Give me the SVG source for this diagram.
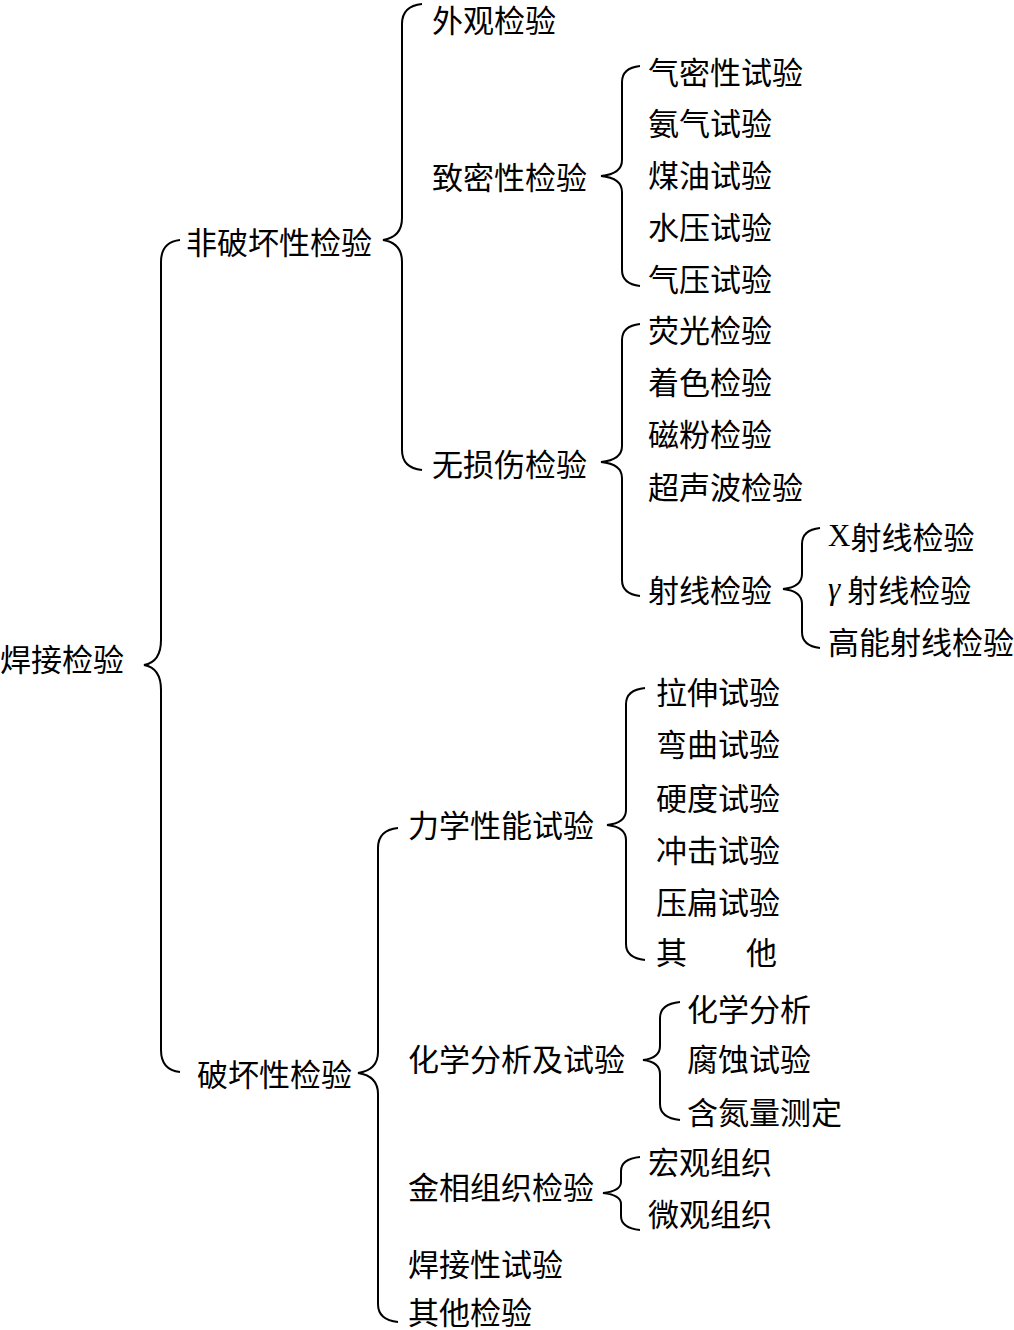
<svg xmlns="http://www.w3.org/2000/svg" width="1014" height="1330" viewBox="0 0 1014 1330">
<style>
text{font-family:"Noto Sans CJK SC","Liberation Serif",serif;font-size:31px;fill:#000;dominant-baseline:central}
.b{fill:none;stroke:#000;stroke-width:2}
.it{font-family:"Liberation Serif",serif;font-style:italic}
.lat{font-family:"Liberation Serif",serif}
</style>
<rect width="1014" height="1330" fill="#fff"/>
<g id="connectors">
<path class="b" d="M180,240 Q161,242 161,262 L161,640 Q161,662 144,665 Q161,668 161,690 L161,1050 Q161,1070 180,1072"/>
<path class="b" d="M422,4 Q402,6 402,24 L402,218 Q402,237 383,240 Q402,243 402,262 L402,450 Q402,468 422,470"/>
<path class="b" d="M640,66 Q622,68 622,82 L622,160 Q622,174 601,176 Q622,178 622,192 L622,270 Q622,284 640,286"/>
<path class="b" d="M640,324 Q622,326 622,340 L622,446 Q622,460 601,462 Q622,464 622,478 L622,580 Q622,594 640,596"/>
<path class="b" d="M820,528 Q802,530 802,544 L802,574 Q802,587 783,589 Q802,591 802,604 L802,632 Q802,646 820,648"/>
<path class="b" d="M398,828 Q378,830 378,848 L378,1052 Q378,1070 358,1073 Q378,1076 378,1094 L378,1304 Q378,1320 398,1322"/>
<path class="b" d="M645,688 Q626,690 626,704 L626,810 Q626,823 607,825 Q626,827 626,840 L626,944 Q626,958 645,960"/>
<path class="b" d="M680,1002 Q660,1004 660,1018 L660,1046 Q660,1058 643,1060 Q660,1062 660,1074 L660,1104 Q660,1118 680,1120"/>
<path class="b" d="M640,1157 Q621,1159 621,1171 L621,1182 Q621,1191 603,1193 Q621,1195 621,1204 L621,1216 Q621,1228 640,1230"/>
</g>
<g id="n-root"><text x="0" y="657">焊接检验</text></g>
<g id="n-nondestructive"><text x="186" y="240">非破坏性检验</text></g>
<g id="n-visual"><text x="432" y="18">外观检验</text></g>
<g id="n-tightness"><text x="432" y="175">致密性检验</text></g>
<g id="n-t1"><text x="648" y="70">气密性试验</text></g>
<g id="n-t2"><text x="648" y="121">氨气试验</text></g>
<g id="n-t3"><text x="648" y="173">煤油试验</text></g>
<g id="n-t4"><text x="648" y="225">水压试验</text></g>
<g id="n-t5"><text x="648" y="277">气压试验</text></g>
<g id="n-ndt"><text x="432" y="462">无损伤检验</text></g>
<g id="n-d1"><text x="648" y="328">荧光检验</text></g>
<g id="n-d2"><text x="648" y="380">着色检验</text></g>
<g id="n-d3"><text x="648" y="432">磁粉检验</text></g>
<g id="n-d4"><text x="648" y="485">超声波检验</text></g>
<g id="n-d5"><text x="648" y="588">射线检验</text></g>
<g id="n-r1"><text x="828" y="535"><tspan class="lat">X</tspan>射线检验</text></g>
<g id="n-r2"><text x="828" y="588"><tspan class="it">γ</tspan> 射线检验</text></g>
<g id="n-r3"><text x="828" y="640">高能射线检验</text></g>
<g id="n-destructive"><text x="197" y="1072">破坏性检验</text></g>
<g id="n-mech"><text x="408" y="823">力学性能试验</text></g>
<g id="n-m1"><text x="656" y="690">拉伸试验</text></g>
<g id="n-m2"><text x="656" y="742">弯曲试验</text></g>
<g id="n-m3"><text x="656" y="796">硬度试验</text></g>
<g id="n-m4"><text x="656" y="848">冲击试验</text></g>
<g id="n-m5"><text x="656" y="900">压扁试验</text></g>
<g id="n-m6"><text x="656" y="950">其</text><text x="746" y="950">他</text></g>
<g id="n-chem"><text x="408" y="1057">化学分析及试验</text></g>
<g id="n-c1"><text x="687" y="1007">化学分析</text></g>
<g id="n-c2"><text x="687" y="1057">腐蚀试验</text></g>
<g id="n-c3"><text x="687" y="1110">含氮量测定</text></g>
<g id="n-metal"><text x="408" y="1185">金相组织检验</text></g>
<g id="n-g1"><text x="648" y="1160">宏观组织</text></g>
<g id="n-g2"><text x="648" y="1212">微观组织</text></g>
<g id="n-weld"><text x="408" y="1262">焊接性试验</text></g>
<g id="n-other"><text x="408" y="1310">其他检验</text></g>
</svg>
